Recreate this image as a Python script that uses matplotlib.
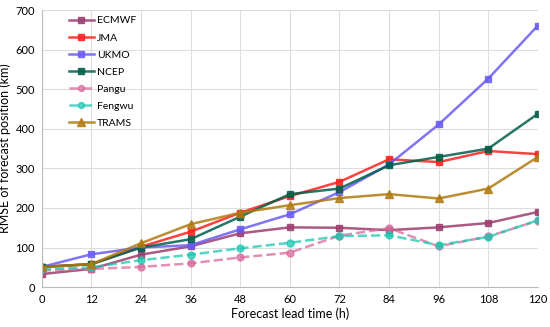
import matplotlib.pyplot as plt

plt.rcParams['font.family'] = ['Lato', 'DejaVu Sans']

# lead times (h)
lead = [0, 12, 24, 36, 48, 60, 72, 84, 96, 108, 120]

# RMSE of forecast position (km)
ecmwf = [33, 46, 82, 103, 136, 151, 150, 144, 151, 162, 190]
jma = [51, 58, 102, 140, 188, 230, 266, 323, 316, 344, 336]
ukmo = [51, 83, 100, 106, 146, 184, 240, 310, 411, 527, 661]
ncep = [51, 58, 100, 121, 178, 235, 249, 308, 329, 350, 438]
pangu = [42, 46, 51, 60, 75, 87, 130, 149, 103, 128, 168]
fengwu = [45, 50, 68, 82, 98, 112, 129, 131, 106, 127, 169]
trams = [51, 58, 111, 159, 188, 207, 225, 235, 224, 249, 329]

fig = plt.figure(figsize=(5.5, 3.27), dpi=100)
ax = fig.add_axes([0.076, 0.122, 0.902, 0.847])

ax.plot(lead, ecmwf, color='#9B3D6E', marker='s', ms=5, lw=1.8, alpha=0.85, label='ECMWF')
ax.plot(lead, jma, color='#FF2020', marker='s', ms=5, lw=1.8, alpha=0.85, label='JMA')
ax.plot(lead, ukmo, color='#6A5CF2', marker='s', ms=5, lw=1.8, alpha=0.85, label='UKMO')
ax.plot(lead, ncep, color='#005F4A', marker='s', ms=5, lw=1.8, alpha=0.85, label='NCEP')
ax.plot(lead, pangu, color='#D86A9C', marker='o', ms=5, lw=1.8, ls='--', alpha=0.75, label='Pangu')
ax.plot(lead, fengwu, color='#1CC7B0', marker='o', ms=5, lw=1.8, ls='--', alpha=0.75, label='Fengwu')
ax.plot(lead, trams, color='#B07A10', marker='^', ms=6, lw=1.8, alpha=0.85, label='TRAMS')

ax.set_xlim(0, 120)
ax.set_ylim(0, 700)
ax.set_xticks(lead)
ax.set_yticks(range(0, 701, 100))
ax.tick_params(labelsize=8, length=0, pad=5)
ax.grid(True, color='#DDDDDD', lw=0.8)
ax.set_axisbelow(True)
for s in ['top', 'right']:
    ax.spines[s].set_visible(False)
for s in ['left', 'bottom']:
    ax.spines[s].set_color('#BBBBBB')

ax.set_xlabel('Forecast lead time (h)', fontsize=9, labelpad=2)
ax.set_ylabel('RMSE of forecast position (km)', fontsize=9, labelpad=3)

ax.legend(loc='upper left', frameon=False, fontsize=7.5, bbox_to_anchor=(0.035, 1.012),
          handlelength=2.4, handletextpad=0.3, labelspacing=0.75, markerscale=0.85)

fig.savefig('out.png', dpi=100)
